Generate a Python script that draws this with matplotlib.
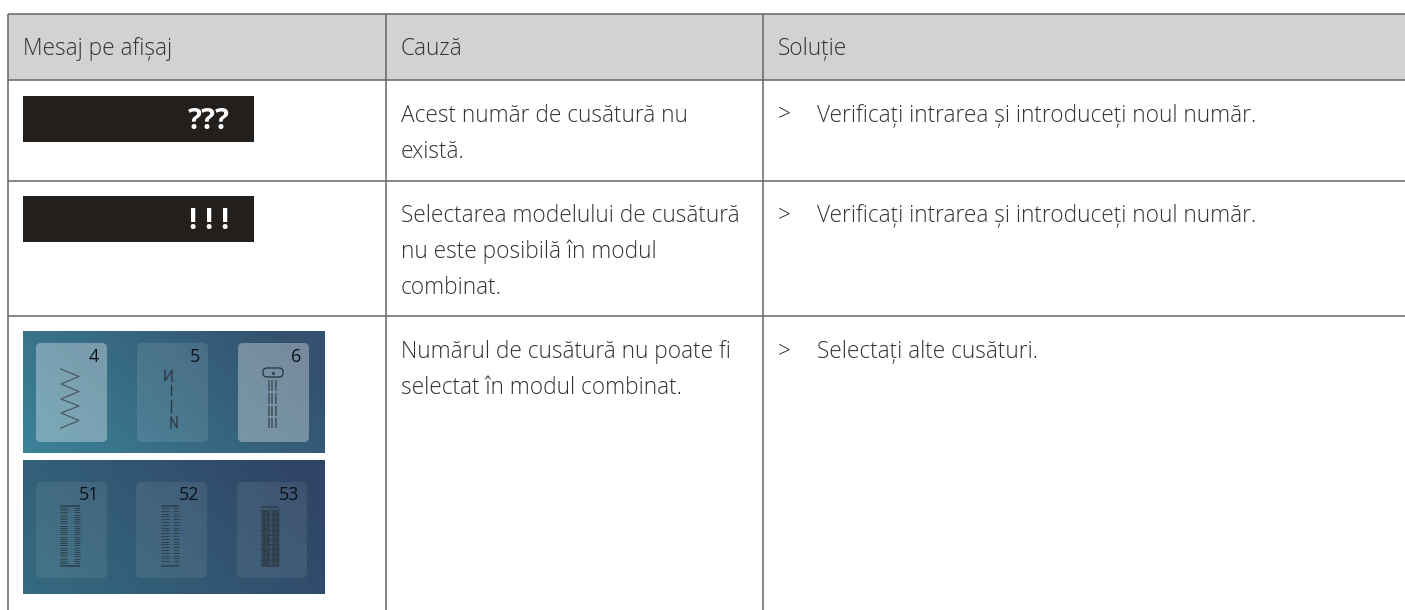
#libraries
import numpy as np
import matplotlib
matplotlib.use('Agg')
import matplotlib.pyplot as plt
from matplotlib.patches import FancyBboxPatch, Rectangle

plt.rcParams['font.family'] = ['Open Sans', 'DejaVu Sans']

#table content
headers = ['Mesaj pe afișaj', 'Cauză', 'Soluție']
causes = [['Acest număr de cusătură nu', 'există.'],
          ['Selectarea modelului de cusătură', 'nu este posibilă în modul', 'combinat.'],
          ['Numărul de cusătură nu poate fi', 'selectat în modul combinat.']]
solutions = ['Verificați intrarea și introduceți noul număr.',
             'Verificați intrarea și introduceți noul număr.',
             'Selectați alte cusături.']
display_msgs = ['???', '! ! !']
top_numbers = ['4', '5', '6']
bottom_numbers = ['51', '52', '53']

#table geometry in pixels
col_lines = [8, 386, 763]
row_lines = [14, 80, 181, 316]
text_x = [23, 401, 778]
first_baseline = [121.5, 222.5, 358]
line_gap = 36
TEXT = '#333333'
LINE = '#666666'
FS = 16.3

fig = plt.figure(figsize=(14.05, 6.10), dpi=100)
ax = fig.add_axes([0, 0, 1, 1])
ax.set_xlim(0, 1405)
ax.set_ylim(610, 0)
ax.axis('off')

#header band and grid
ax.add_patch(Rectangle((8, 14), 1397, 66, color='#d1d2d4', lw=0, zorder=0))
for y in row_lines:
    ax.plot([8, 1405], [y, y], color=LINE, lw=1.1, solid_capstyle='butt', zorder=1)
for x in col_lines:
    ax.plot([x, x], [14, 610], color=LINE, lw=1.1, solid_capstyle='butt', zorder=1)

#header text
for x, h in zip(text_x, headers):
    ax.text(x, 55, h, fontsize=FS, color=TEXT, va='baseline', ha='left', fontweight='light')

#cause column
for lines, y0 in zip(causes, first_baseline):
    for i, line in enumerate(lines):
        ax.text(401, y0 + i * line_gap, line, fontsize=FS, color=TEXT, va='baseline', fontweight='light')

#solution column
for sol, y0 in zip(solutions, first_baseline):
    ax.text(778, y0, '>', fontsize=FS, color=TEXT, va='baseline', fontweight='light')
    ax.text(817, y0, sol, fontsize=FS, color=TEXT, va='baseline', fontweight='light')

#black message bars
for msg, top in zip(display_msgs, [96, 196]):
    ax.add_patch(Rectangle((23, top), 231, 46, color='#231f1c', lw=0))
    ax.text(209, top + 33, msg, fontsize=21, color='white', fontweight='bold', ha='center', va='baseline')


#function to draw a teal panel with a diagonal gradient
def gradient_panel(x0, x1, y0, y1, left, right):
    xs, ys = np.meshgrid(np.linspace(0, 1, 200), np.linspace(0, 1, 80))
    t = np.clip(0.85 * xs + 0.3 * (1 - ys) - 0.05, 0, 1)[..., None]
    img = np.array(matplotlib.colors.to_rgb(left)) * (1 - t) + np.array(matplotlib.colors.to_rgb(right)) * t
    ax.imshow(img, extent=(x0, x1, y1, y0), aspect='auto', zorder=2, interpolation='bilinear')


def card(x0, x1, y0, y1, alpha):
    ax.add_patch(FancyBboxPatch((x0 + 4, y0 + 4), x1 - x0 - 8, y1 - y0 - 8,
                                boxstyle='round,pad=4,rounding_size=5',
                                fc='white', ec='none', alpha=alpha, zorder=3))


gradient_panel(23, 325, 331, 453, '#3b8096', '#33506e')
gradient_panel(23, 325, 460, 594, '#35697f', '#2f4566')
ax.set_xlim(0, 1405)
ax.set_ylim(610, 0)

#top panel cards
for (x0, x1), a, n, nx in zip([(36, 107), (137, 208), (238, 309)], [0.33, 0.1, 0.33],
                              top_numbers, [94, 195, 296]):
    card(x0, x1, 343, 442, a)
    ax.text(nx, 362, n, fontsize=13, color='#0c1218', ha='center', va='baseline', zorder=5)

STITCH = '#2c3a44'
#zigzag stitch (card 4)
zig_x = [61, 79, 61, 79, 61, 79, 61, 79, 61]
zig_y = [369, 376.5, 384, 391.5, 399, 406, 413, 420.5, 428]
ax.plot(zig_x, zig_y, color='#4a5a62', lw=0.9, zorder=4)

#straight stitch with letter ends (card 5)
ax.plot([165, 165, 172, 172], [370, 381, 370, 381], color=STITCH, lw=1, zorder=4)
ax.plot([171, 171], [385, 395], color=STITCH, lw=1, zorder=4)
ax.plot([171, 171], [400, 412], color=STITCH, lw=1, zorder=4)
ax.plot([171, 171, 177, 177], [428, 417, 428, 417], color=STITCH, lw=1, zorder=4)

#buttonhole (card 6)
ax.add_patch(FancyBboxPatch((266, 371), 14, 3, boxstyle='round,pad=3,rounding_size=4',
                            fc='none', ec=STITCH, lw=1, zorder=4))
ax.plot([272.5], [372.5], 'o', ms=1.2, color=STITCH, zorder=4)
for x in [268.5, 272, 275.5]:
    for y0, y1 in [(380, 391), (393, 404), (406, 416), (418, 428)]:
        ax.plot([x, x], [y0, y1], color='#4a5a64', lw=1.3, solid_capstyle='butt', zorder=4)

#bottom panel cards
for (x0, x1), n, nx in zip([(36, 107), (136, 207), (237, 307)], bottom_numbers, [89, 189, 289]):
    card(x0, x1, 482, 578, 0.08)
    ax.text(nx, 500.5, n, fontsize=13, color='#0c1218', ha='center', va='baseline', zorder=5)

HOLE = '#2e3f4a'
#buttonhole samples: two ladder columns and a narrow gap
for x0, x1, gap0, gap1, step in [(60, 80, 66.5, 73.5, 2.2), (161, 179, 168.5, 172.5, 2.8)]:
    for y in np.arange(508, 564, step):
        ax.plot([x0, gap0], [y, y], color=HOLE, lw=0.7, alpha=0.9, solid_capstyle='butt', zorder=4)
        ax.plot([gap1, x1], [y, y], color=HOLE, lw=0.7, alpha=0.9, solid_capstyle='butt', zorder=4)
    for y in [505.5, 565.5]:
        ax.plot([x0, x1], [y, y], color=HOLE, lw=1.1, solid_capstyle='butt', zorder=4)

#third sample with crossed pattern
for x0, x1 in [(262, 270), (272, 279)]:
    for y in np.arange(510, 562, 5.0):
        ax.plot([x0, x1, x0], [y, y + 2.5, y + 5], color=HOLE, lw=1, zorder=4)
        ax.plot([x1, x0, x1], [y, y + 2.5, y + 5], color=HOLE, lw=1, zorder=4)
for y in [507, 565.5]:
    ax.plot([261, 279], [y, y], color=HOLE, lw=1.1, solid_capstyle='butt', zorder=4)

plt.savefig('out.png', dpi=100)
